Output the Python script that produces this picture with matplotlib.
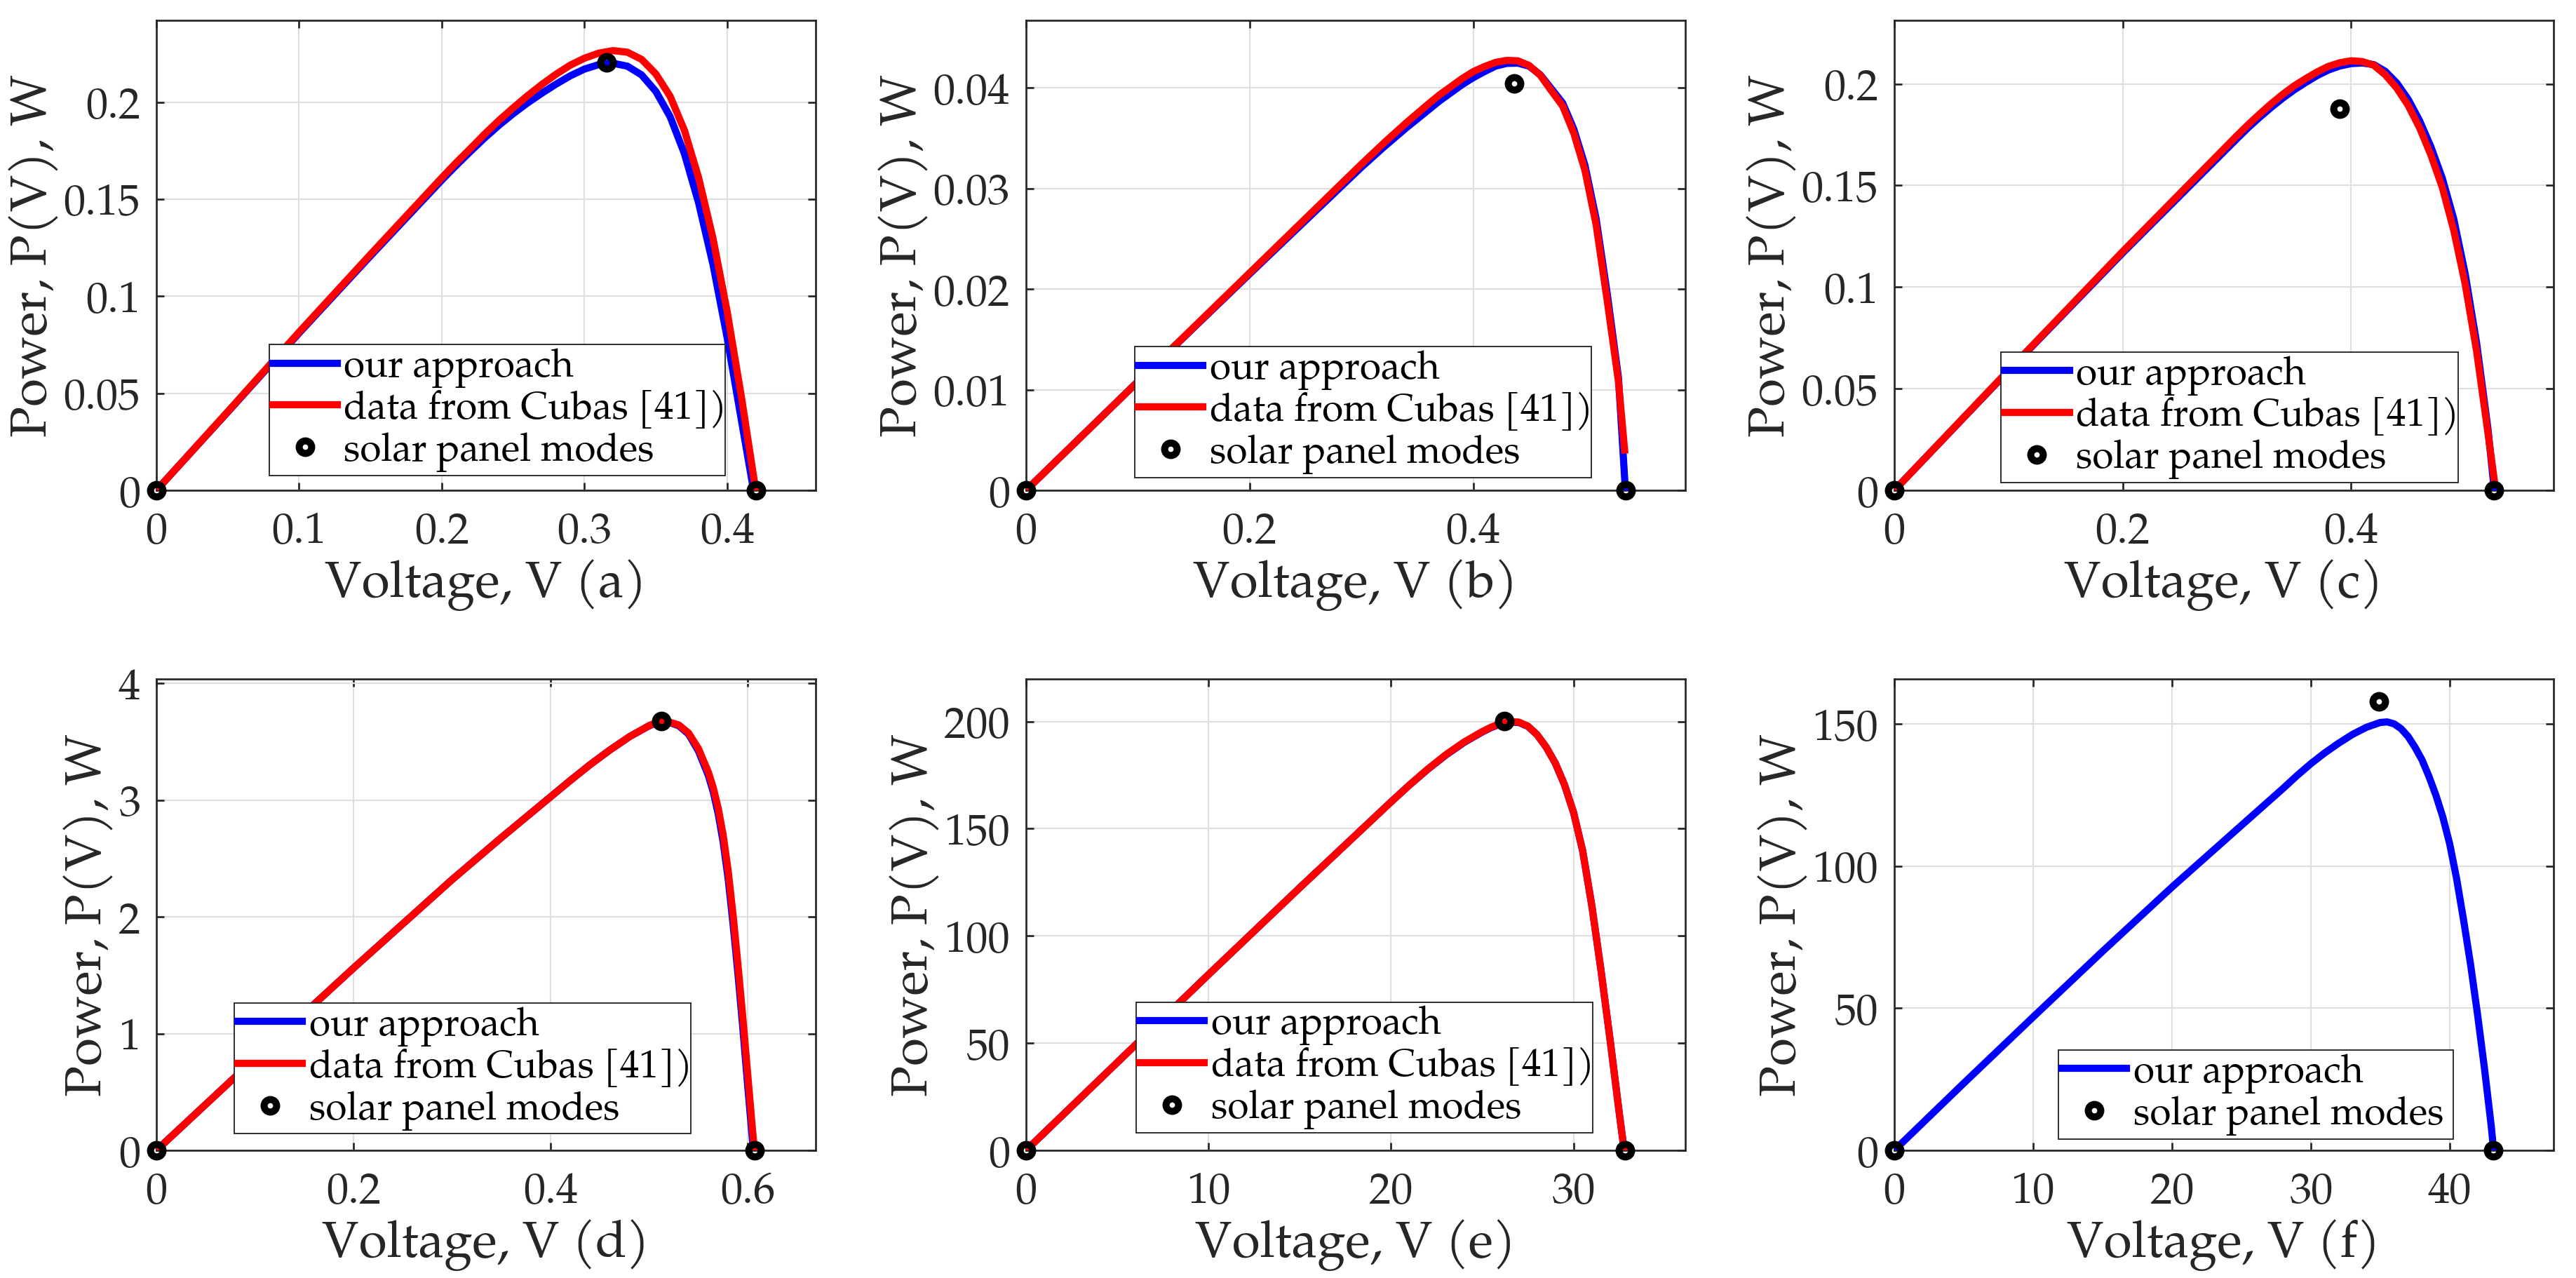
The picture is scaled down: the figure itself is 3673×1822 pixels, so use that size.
import matplotlib
matplotlib.use("Agg")
import matplotlib.pyplot as plt
from matplotlib.ticker import FixedLocator, FixedFormatter

plt.rcParams["font.family"] = ["TeX Gyre Pagella", "DejaVu Serif"]

# ---- panel (a) ----
a_blue_v = [0, 0.05, 0.10, 0.15, 0.20, 0.21, 0.22, 0.23, 0.24, 0.25, 0.26, 0.27, 0.28, 0.29, 0.30,
            0.31, 0.32, 0.33, 0.34, 0.35, 0.36, 0.37, 0.38, 0.39, 0.40, 0.41, 0.4185]
a_blue_p = [0, 0.0403, 0.081, 0.1207, 0.1598, 0.1673, 0.1745, 0.1815, 0.1880, 0.1940, 0.1995, 0.2045,
            0.2092, 0.2135, 0.2170, 0.2193, 0.2200, 0.2185, 0.2140, 0.2055, 0.1925, 0.1735, 0.1480,
            0.1165, 0.0785, 0.0360, 0]
a_red_v = [0, 0.05, 0.10, 0.15, 0.20, 0.21, 0.22, 0.23, 0.24, 0.25, 0.26, 0.27, 0.28, 0.29, 0.30,
           0.31, 0.32, 0.33, 0.34, 0.35, 0.36, 0.37, 0.38, 0.39, 0.40, 0.41, 0.42]
a_red_p = [0, 0.0405, 0.0815, 0.1215, 0.1610, 0.1687, 0.1760, 0.1835, 0.1905, 0.1970, 0.2032, 0.2090,
           0.2143, 0.2190, 0.2226, 0.2252, 0.2265, 0.2257, 0.2220, 0.2145, 0.2030, 0.1855, 0.1610,
           0.1300, 0.0920, 0.0480, 0]
a_modes_v = [0, 0.3155, 0.42]
a_modes_p = [0, 0.2205, 0]
a_xticks = [0, 0.1, 0.2, 0.3, 0.4]
a_yticks = [0, 0.05, 0.1, 0.15, 0.2]
a_lims = [0.462, 0.2421]

# ---- panel (b) ----
b_blue_v = [0, 0.1, 0.2, 0.30, 0.32, 0.34, 0.36, 0.37, 0.38, 0.39, 0.40, 0.41, 0.42, 0.43, 0.44,
            0.45, 0.46, 0.47, 0.48, 0.49, 0.50, 0.51, 0.52, 0.53, 0.5362]
b_blue_p = [0, 0.0108, 0.0215, 0.0321, 0.0341, 0.0360, 0.0378, 0.0387, 0.0395, 0.0403, 0.0410, 0.0416,
            0.04215, 0.04242, 0.04245, 0.04215, 0.04130, 0.0399, 0.0385, 0.0359, 0.0323, 0.0270,
            0.0195, 0.0112, 0]
b_red_v = [0, 0.1, 0.2, 0.30, 0.32, 0.34, 0.36, 0.37, 0.38, 0.39, 0.40, 0.41, 0.42, 0.43, 0.44,
           0.45, 0.46, 0.47, 0.48, 0.49, 0.50, 0.51, 0.52, 0.53, 0.5355]
b_red_p = [0, 0.0108, 0.0216, 0.0324, 0.0345, 0.0365, 0.0384, 0.0393, 0.0401, 0.0409, 0.0416, 0.0421,
           0.04252, 0.04272, 0.04268, 0.04222, 0.04125, 0.0397, 0.0382, 0.0355, 0.0318, 0.0264,
           0.0188, 0.0108, 0.0040]
b_modes_v = [0, 0.4364, 0.5362]
b_modes_p = [0, 0.0404, 0]
b_xticks = [0, 0.2, 0.4]
b_yticks = [0, 0.01, 0.02, 0.03, 0.04]
b_lims = [0.5898, 0.0467]

# ---- panel (c) ----
c_blue_v = [0, 0.1, 0.2, 0.30, 0.31, 0.32, 0.33, 0.34, 0.35, 0.36, 0.37, 0.38, 0.39, 0.40, 0.41,
            0.42, 0.43, 0.44, 0.45, 0.46, 0.47, 0.48, 0.49, 0.50, 0.51, 0.52, 0.5255]
c_blue_p = [0, 0.0588, 0.1168, 0.1730, 0.1785, 0.1836, 0.1884, 0.1929, 0.1970, 0.2006, 0.2040, 0.2068,
            0.2088, 0.2100, 0.2103, 0.2095, 0.2062, 0.2005, 0.1925, 0.1820, 0.1690, 0.1535, 0.1335,
            0.1065, 0.0725, 0.0300, 0]
c_red_v = [0, 0.1, 0.2, 0.30, 0.31, 0.32, 0.33, 0.34, 0.35, 0.36, 0.37, 0.38, 0.39, 0.40, 0.41,
           0.42, 0.43, 0.44, 0.45, 0.46, 0.47, 0.48, 0.49, 0.50, 0.51, 0.52, 0.5255]
c_red_p = [0, 0.059, 0.1175, 0.1745, 0.1800, 0.1852, 0.1902, 0.1948, 0.1990, 0.2025, 0.2058, 0.2086,
           0.2104, 0.2114, 0.2110, 0.2092, 0.2045, 0.1980, 0.1895, 0.1785, 0.1650, 0.1490, 0.1280,
           0.1015, 0.0685, 0.0280, 0.005]
c_modes_v = [0, 0.3899, 0.5249]
c_modes_p = [0, 0.1878, 0]
c_xticks = [0, 0.2, 0.4]
c_yticks = [0, 0.05, 0.1, 0.15, 0.2]
c_lims = [0.5774, 0.2313]

# ---- panel (d) ----
d_blue_v = [0, 0.1, 0.2, 0.30, 0.35, 0.40, 0.42, 0.44, 0.46, 0.48, 0.50, 0.505, 0.51, 0.515, 0.52,
            0.53, 0.54, 0.55, 0.56, 0.565, 0.57, 0.575, 0.58, 0.585, 0.59, 0.595, 0.60, 0.605, 0.6055]
d_blue_p = [0, 0.787, 1.562, 2.32, 2.68, 3.03, 3.17, 3.305, 3.43, 3.545, 3.638, 3.655, 3.666, 3.672,
            3.668, 3.638, 3.565, 3.42, 3.21, 3.07, 2.88, 2.64, 2.33, 1.94, 1.51, 1.04, 0.54, 0.06, 0]
d_red_v = [0, 0.1, 0.2, 0.30, 0.35, 0.40, 0.42, 0.44, 0.46, 0.48, 0.50, 0.505, 0.51, 0.515, 0.52,
           0.53, 0.54, 0.55, 0.56, 0.565, 0.57, 0.575, 0.58, 0.585, 0.59, 0.595, 0.60, 0.605, 0.6067]
d_red_p = [0, 0.787, 1.562, 2.32, 2.68, 3.03, 3.17, 3.305, 3.43, 3.545, 3.64, 3.657, 3.668, 3.674,
           3.670, 3.645, 3.575, 3.44, 3.24, 3.105, 2.93, 2.70, 2.40, 2.02, 1.59, 1.13, 0.64, 0.15, 0]
d_modes_v = [0, 0.5124, 0.6067]
d_modes_p = [0, 3.68, 0]
d_xticks = [0, 0.2, 0.4, 0.6]
d_yticks = [0, 1, 2, 3, 4]
d_lims = [0.6688, 4.039]

# ---- panel (e) ----
e_blue_v = [0, 5, 10, 15, 20, 21, 22, 23, 24, 25, 25.5, 26, 26.5, 27, 27.5, 28, 28.5, 29, 29.5,
            30, 30.5, 31, 31.5, 32, 32.5, 32.77]
e_blue_p = [0, 41.0, 82.0, 122.5, 162.5, 170.3, 177.6, 184.3, 190.2, 195.1, 197.2, 198.8, 199.7,
            199.5, 197.7, 193.8, 188.0, 180.5, 170.5, 157.5, 139.5, 114.0, 84.0, 51.5, 17.5, 0]
e_red_v = [0, 5, 10, 15, 20, 21, 22, 23, 24, 25, 25.5, 26, 26.5, 27, 27.5, 28, 28.5, 29, 29.5,
           30, 30.5, 31, 31.5, 32, 32.5, 32.77]
e_red_p = [0, 41.0, 82.0, 122.5, 162.5, 170.3, 177.7, 184.5, 190.4, 195.3, 197.4, 199.0, 199.9,
           199.7, 197.8, 193.8, 188.0, 180.5, 170.5, 157.5, 139.5, 114.0, 84.0, 51.5, 17.5, 0]
e_modes_v = [0, 26.21, 32.8]
e_modes_p = [0, 200.3, 0]
e_xticks = [0, 10, 20, 30]
e_yticks = [0, 50, 100, 150, 200]
e_lims = [36.12, 219.8]

# ---- panel (f) ----
f_blue_v = [0, 5, 10, 15, 20, 25, 28, 29, 30, 31, 32, 33, 34, 35, 35.5, 36, 36.5, 37, 37.5, 38,
            38.5, 39, 39.5, 40, 40.5, 41, 41.5, 42, 42.5, 43, 43.16]
f_blue_p = [0, 23.6, 46.9, 70.0, 92.6, 114.3, 127.3, 131.8, 136.0, 139.8, 143.2, 146.3, 148.8, 150.5,
            150.7, 150.0, 148.3, 145.6, 141.8, 137.4, 131.6, 125.0, 117.3, 107.8, 95.5, 81.0, 65.5,
            48.0, 29.0, 8.2, 0]
f_modes_v = [0, 34.92, 43.16]
f_modes_p = [0, 157.8, 0]
f_xticks = [0, 10, 20, 30, 40]
f_yticks = [0, 50, 100, 150]
f_lims = [47.48, 165.8]

panel_letters = ["a", "b", "c", "d", "e", "f"]
label_ours = "our approach"
label_cubas = "data from Cubas [41])"
label_modes = "solar panel modes"

panels = [
    dict(blue=(a_blue_v, a_blue_p), red=(a_red_v, a_red_p), modes=(a_modes_v, a_modes_p),
         xt=a_xticks, yt=a_yticks, lims=a_lims),
    dict(blue=(b_blue_v, b_blue_p), red=(b_red_v, b_red_p), modes=(b_modes_v, b_modes_p),
         xt=b_xticks, yt=b_yticks, lims=b_lims),
    dict(blue=(c_blue_v, c_blue_p), red=(c_red_v, c_red_p), modes=(c_modes_v, c_modes_p),
         xt=c_xticks, yt=c_yticks, lims=c_lims),
    dict(blue=(d_blue_v, d_blue_p), red=(d_red_v, d_red_p), modes=(d_modes_v, d_modes_p),
         xt=d_xticks, yt=d_yticks, lims=d_lims),
    dict(blue=(e_blue_v, e_blue_p), red=(e_red_v, e_red_p), modes=(e_modes_v, e_modes_p),
         xt=e_xticks, yt=e_yticks, lims=e_lims),
    dict(blue=(f_blue_v, f_blue_p), red=None, modes=(f_modes_v, f_modes_p),
         xt=f_xticks, yt=f_yticks, lims=f_lims),
]

# layout (pixels of the 3673x1822 canvas)
W, H = 3673, 1822
col_left = [223, 1463, 2701]
ax_w = 940
row_top = [29, 968]
row_h = [670, 672]
# legend box in axes fractions: left, right, bottom
legend_box = [(0.171, 0.863, 0.032), (0.165, 0.857, 0.0275), (0.162, 0.855, 0.016),
              (0.118, 0.811, 0.035), (0.167, 0.860, 0.037), (0.249, 0.848, 0.0245)]

DARK = "#262626"
fig = plt.figure(figsize=(W / 300, H / 300), dpi=300)

for k, pan in enumerate(panels):
    r, c = divmod(k, 3)
    rect = [col_left[c] / W, (H - row_top[r] - row_h[r]) / H, ax_w / W, row_h[r] / H]
    ax = fig.add_axes(rect)

    ax.plot(*pan["blue"], color="#0000ff", lw=2.45, label=label_ours, zorder=3)
    if pan["red"] is not None:
        ax.plot(*pan["red"], color="#ff0000", lw=2.45, label=label_cubas, zorder=4)
    ax.plot(*pan["modes"], linestyle="none", marker="o", ms=4.3, mew=2.4,
            mec="black", mfc="none", label=label_modes, zorder=5, clip_on=False)

    ax.set_xlim(0, pan["lims"][0])
    ax.set_ylim(0, pan["lims"][1])
    ax.xaxis.set_major_locator(FixedLocator(pan["xt"]))
    ax.xaxis.set_major_formatter(FixedFormatter(["{:g}".format(t) for t in pan["xt"]]))
    ax.yaxis.set_major_locator(FixedLocator(pan["yt"]))
    ax.yaxis.set_major_formatter(FixedFormatter(["{:g}".format(t) for t in pan["yt"]]))

    ax.grid(True, color="#dedede", lw=0.5, zorder=0)
    ax.set_axisbelow(True)
    for sp in ax.spines.values():
        sp.set_color(DARK)
        sp.set_linewidth(0.65)
    ax.tick_params(direction="in", top=True, right=True, length=2.6, width=0.65,
                   color=DARK, labelcolor=DARK, labelsize=15)
    ax.tick_params(axis="x", pad=7.1)
    ax.tick_params(axis="y", pad=5.5)

    ax.set_xlabel("Voltage, V ({})".format(panel_letters[k]), fontsize=17.5, color=DARK, labelpad=1.5)
    ax.set_ylabel("Power, P(V), W", fontsize=17.5, color=DARK, labelpad=1)

    x0, x1, y0 = legend_box[k]
    leg = ax.legend(loc="lower left", bbox_to_anchor=(x0, y0, x1 - x0, 0.5), mode="expand",
                    borderaxespad=0, fontsize=13.2, handlelength=1.68, handletextpad=0.17,
                    borderpad=0.09, labelspacing=0.06, fancybox=False, framealpha=1)
    leg.get_frame().set_edgecolor(DARK)
    leg.get_frame().set_linewidth(0.45)
    leg.set_zorder(6)

fig.savefig("out.png", dpi=300)
